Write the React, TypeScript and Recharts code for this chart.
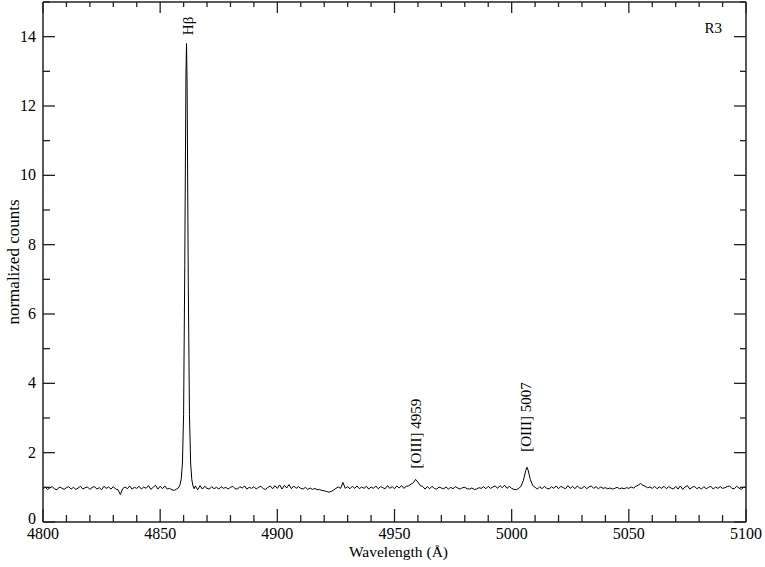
import { LineChart, Line, XAxis, YAxis, ReferenceDot } from "recharts";

// spectrum pieces: [wavelength (Å), normalized counts]
const blueContinuum: [number, number][] = [
  [4800, 0.97], [4801, 1.0], [4802, 0.94], [4803, 0.99], [4804, 1.02], [4805, 0.95], [4806, 0.93], [4807, 1.01], [4808, 0.98], [4809, 0.94],
  [4810, 0.99], [4811, 1.02], [4812, 0.95], [4813, 1.0], [4814, 0.94], [4815, 0.98], [4816, 1.03], [4817, 0.95], [4818, 0.99], [4819, 1.01],
  [4820, 0.94], [4821, 1.0], [4822, 1.02], [4823, 0.95], [4824, 0.99], [4825, 0.93], [4826, 1.03], [4827, 0.97], [4828, 1.01], [4829, 0.95],
  [4830, 1.02], [4831, 0.95], [4832, 0.93], [4833, 0.79], [4834, 0.96], [4835, 1.01], [4836, 0.96], [4837, 1.04], [4838, 0.95], [4839, 1.0],
  [4840, 0.97], [4841, 1.03], [4842, 0.95], [4843, 1.01], [4844, 0.97], [4845, 1.05], [4846, 0.94], [4847, 1.0], [4848, 1.06], [4849, 0.95],
  [4850, 1.03], [4851, 0.96], [4852, 1.04], [4853, 0.95], [4854, 0.97], [4855, 0.93], [4856, 0.91], [4857, 0.95],
];

const hBetaLine: [number, number][] = [
  [4858, 1.0], [4858.5, 1.08], [4859, 1.25], [4859.5, 1.7], [4860, 3.1], [4860.5, 7.4], [4861, 12.9], [4861.25, 13.8],
  [4861.5, 12.6], [4862, 6.9], [4862.5, 3.1], [4863, 1.7], [4863.5, 1.22], [4864, 1.04], [4864.5, 0.96],
];

const midContinuum: [number, number][] = [
  [4865, 1.04], [4866, 0.93], [4867, 1.05], [4868, 0.95], [4869, 1.03],
  [4870, 0.97], [4871, 0.95], [4872, 1.02], [4873, 0.96], [4874, 1.0], [4875, 0.95], [4876, 1.02], [4877, 0.97], [4878, 1.0], [4879, 0.95],
  [4880, 1.0], [4881, 1.03], [4882, 0.96], [4883, 0.95], [4884, 1.02], [4885, 0.98], [4886, 1.04], [4887, 0.95], [4888, 1.0], [4889, 0.97],
  [4890, 1.02], [4891, 0.95], [4892, 1.0], [4893, 1.03], [4894, 0.96], [4895, 0.94], [4896, 1.0], [4897, 1.04], [4898, 0.96], [4899, 1.05],
  [4900, 0.97], [4901, 1.07], [4902, 0.95], [4903, 1.06], [4904, 0.98], [4905, 1.08], [4906, 0.96], [4907, 1.04], [4908, 0.97], [4909, 1.02],
  [4910, 0.97], [4911, 0.95], [4912, 1.0], [4913, 0.94], [4914, 0.98], [4915, 0.94], [4916, 0.97], [4917, 0.93], [4918, 0.94], [4919, 0.91],
  [4920, 0.9], [4921, 0.88], [4922, 0.86], [4923, 0.88], [4924, 0.92], [4925, 0.97], [4926, 1.01], [4927, 0.97], [4928, 1.14], [4929, 0.97],
  [4930, 1.02], [4931, 0.96], [4932, 1.03], [4933, 0.97], [4934, 1.04], [4935, 0.96], [4936, 1.01], [4937, 0.97], [4938, 1.03], [4939, 0.95],
  [4940, 1.01], [4941, 0.97], [4942, 1.04], [4943, 0.96], [4944, 1.02], [4945, 0.99], [4946, 0.96], [4947, 1.05], [4948, 0.97], [4949, 1.02],
  [4950, 0.96], [4951, 1.04], [4952, 0.98], [4953, 1.05], [4954, 0.97], [4955, 1.03],
];

const oiii4959: [number, number][] = [
  [4956, 1.04], [4957, 1.09], [4958, 1.13], [4959, 1.23], [4960, 1.15], [4961, 1.05], [4962, 1.03],
];

const interContinuum: [number, number][] = [
  [4963, 0.95], [4964, 1.02], [4965, 0.96], [4966, 1.03], [4967, 0.97], [4968, 0.95], [4969, 1.01],
  [4970, 0.98], [4971, 0.96], [4972, 1.01], [4973, 0.95], [4974, 1.0], [4975, 0.96], [4976, 1.02], [4977, 0.98], [4978, 0.95], [4979, 0.99],
  [4980, 1.0], [4981, 0.96], [4982, 0.95], [4983, 0.98], [4984, 0.94], [4985, 0.95], [4986, 0.99], [4987, 0.97], [4988, 1.02], [4989, 0.96],
  [4990, 1.03], [4991, 0.97], [4992, 1.01], [4993, 1.04], [4994, 0.97], [4995, 1.05], [4996, 0.99], [4997, 1.06], [4998, 0.97], [4999, 1.03],
  [5000, 0.97], [5001, 0.94], [5002, 0.93], [5003, 0.97],
];

const oiii5007: [number, number][] = [
  [5004, 1.03], [5005, 1.2], [5006, 1.48], [5006.5, 1.58], [5007, 1.5], [5008, 1.22], [5009, 1.05],
];

const redContinuum: [number, number][] = [
  [5010, 1.0], [5011, 0.95], [5012, 1.02], [5013, 0.96], [5014, 1.03], [5015, 0.97], [5016, 0.95], [5017, 1.02], [5018, 0.97], [5019, 1.04],
  [5020, 0.96], [5021, 1.03], [5022, 0.99], [5023, 0.96], [5024, 1.05], [5025, 0.97], [5026, 1.03], [5027, 0.96], [5028, 1.04], [5029, 0.98],
  [5030, 0.97], [5031, 1.03], [5032, 0.96], [5033, 1.01], [5034, 1.04], [5035, 0.97], [5036, 1.02], [5037, 0.96], [5038, 1.01], [5039, 0.97],
  [5040, 0.99], [5041, 0.96], [5042, 0.98], [5043, 0.95], [5044, 0.97], [5045, 1.0], [5046, 0.96], [5047, 0.98], [5048, 0.96], [5049, 0.99],
  [5050, 0.97], [5051, 1.01], [5052, 0.98], [5053, 1.03], [5054, 1.06], [5055, 1.11], [5056, 1.06], [5057, 1.03], [5058, 0.99], [5059, 1.01],
  [5060, 0.97], [5061, 1.03], [5062, 0.96], [5063, 1.01], [5064, 0.97], [5065, 1.03], [5066, 0.96], [5067, 1.02], [5068, 0.98], [5069, 0.95],
  [5070, 1.03], [5071, 0.95], [5072, 1.04], [5073, 0.94], [5074, 1.01], [5075, 1.05], [5076, 0.95], [5077, 1.0], [5078, 1.03], [5079, 0.96],
  [5080, 1.0], [5081, 0.95], [5082, 1.02], [5083, 0.96], [5084, 1.0], [5085, 1.03], [5086, 0.95], [5087, 1.01], [5088, 0.97], [5089, 1.02],
  [5090, 0.97], [5091, 0.99], [5092, 1.02], [5093, 1.04], [5094, 0.97], [5095, 0.96], [5096, 1.03], [5097, 0.98], [5098, 0.94], [5099, 1.01],
  [5100, 0.99],
];

const xTicks = [
  4800, 4810, 4820, 4830, 4840, 4850, 4860, 4870, 4880, 4890, 4900, 4910, 4920, 4930, 4940, 4950,
  4960, 4970, 4980, 4990, 5000, 5010, 5020, 5030, 5040, 5050, 5060, 5070, 5080, 5090, 5100,
];
const xMajorTicks = [4800, 4850, 4900, 4950, 5000, 5050, 5100];
const yTicks = [0, 1, 2, 3, 4, 5, 6, 7, 8, 9, 10, 11, 12, 13, 14, 15];
const yMajorTicks = [0, 2, 4, 6, 8, 10, 12, 14];

const lineLabels = ["H\u03b2", "[OIII] 4959", "[OIII] 5007"];
const lineLabelWave = [4864.0, 4961.3, 5008.3];
const lineLabelLevel = [14.31, 2.55, 3.03];

const serif = { fontFamily: "Liberation Serif, DejaVu Serif, serif" };

const data = [
  ...blueContinuum,
  ...hBetaLine,
  ...midContinuum,
  ...oiii4959,
  ...interContinuum,
  ...oiii5007,
  ...redContinuum,
].map(([wave, counts]) => ({ wave, counts }));

function BottomTick(props: any) {
  const { x, y, payload } = props;
  const major = xMajorTicks.includes(payload.value);
  return (
    <g>
      <line x1={x} y1={y} x2={x} y2={y - (major ? 13 : 7)} stroke="#222" strokeWidth={1.3} />
      {major && (
        <text x={x} y={y + 17} textAnchor="middle" fontSize={16} style={serif} fill="#000">
          {payload.value}
        </text>
      )}
    </g>
  );
}

function TopTick(props: any) {
  const { x, y, payload } = props;
  const major = xMajorTicks.includes(payload.value);
  return <line x1={x} y1={y} x2={x} y2={y + (major ? 11 : 5)} stroke="#222" strokeWidth={1.3} />;
}

function LeftTick(props: any) {
  const { x, y, payload } = props;
  const major = yMajorTicks.includes(payload.value);
  const lift = payload.value === 0 ? 3 : 0;
  return (
    <g>
      <line x1={x} y1={y} x2={x + (major ? 12 : 7)} y2={y} stroke="#222" strokeWidth={1.3} />
      {major && (
        <text x={x - 7} y={y + 5 - lift} textAnchor="end" fontSize={16} style={serif} fill="#000">
          {payload.value}
        </text>
      )}
    </g>
  );
}

function RightTick(props: any) {
  const { x, y, payload } = props;
  const major = yMajorTicks.includes(payload.value);
  return <line x1={x} y1={y} x2={x - (major ? 12 : 6)} y2={y} stroke="#222" strokeWidth={1.3} />;
}

function VerticalLabel({ cx, cy, text }: { cx?: number; cy?: number; text: string }) {
  if (cx == null || cy == null) return null;
  return (
    <text
      x={cx}
      y={cy}
      transform={`rotate(-90, ${cx}, ${cy})`}
      textAnchor="middle"
      fontSize={15}
      style={serif}
      fill="#000"
    >
      {text}
    </text>
  );
}

export default function App() {
  return (
    <div style={{ width: 765, height: 567, background: "#fff" }}>
      <style>{"body{margin:0}"}</style>
      <LineChart width={765} height={567} data={data} margin={{ top: 0, right: 0, bottom: 0, left: 0 }}>
        <XAxis
          xAxisId="bottom"
          dataKey="wave"
          type="number"
          domain={[4800, 5100]}
          ticks={xTicks}
          interval={0}
          height={45}
          tickSize={0}
          tickMargin={0}
          tickLine={false}
          axisLine={{ stroke: "#222", strokeWidth: 1.5 }}
          tick={<BottomTick />}
          allowDataOverflow
          label={{
            content: (p: any) => {
              const vb = p.viewBox;
              return (
                <text x={vb.x + vb.width / 2 + 4} y={557} textAnchor="middle" fontSize={15.5} style={serif} fill="#000">
                  {"Wavelength  (\u00c5)"}
                </text>
              );
            },
          }}
        />
        <XAxis
          xAxisId="top"
          orientation="top"
          dataKey="wave"
          type="number"
          domain={[4800, 5100]}
          ticks={xTicks}
          interval={0}
          height={2}
          tickSize={0}
          tickMargin={0}
          tickLine={false}
          axisLine={{ stroke: "#222", strokeWidth: 1.5 }}
          tick={<TopTick />}
          allowDataOverflow
        />
        <YAxis
          yAxisId="left"
          type="number"
          domain={[0, 15]}
          ticks={yTicks}
          interval={0}
          width={43}
          tickSize={0}
          tickMargin={0}
          tickLine={false}
          axisLine={{ stroke: "#222", strokeWidth: 1.5 }}
          tick={<LeftTick />}
          allowDataOverflow
          label={{
            content: (p: any) => {
              const vb = p.viewBox;
              const cy = vb.y + vb.height / 2;
              return (
                <text
                  x={19}
                  y={cy}
                  transform={`rotate(-90, 19, ${cy})`}
                  textAnchor="middle"
                  fontSize={17}
                  style={serif}
                  fill="#000"
                >
                  normalized counts
                </text>
              );
            },
          }}
        />
        <YAxis
          yAxisId="right"
          orientation="right"
          type="number"
          domain={[0, 15]}
          ticks={yTicks}
          interval={0}
          width={19}
          tickSize={0}
          tickMargin={0}
          tickLine={false}
          axisLine={{ stroke: "#222", strokeWidth: 1.5 }}
          tick={<RightTick />}
          allowDataOverflow
        />
        <Line
          xAxisId="bottom"
          yAxisId="left"
          type="linear"
          dataKey="counts"
          stroke="#000"
          strokeWidth={1}
          dot={false}
          isAnimationActive={false}
        />
        {lineLabels.map((t, i) => (
          <ReferenceDot
            key={t}
            xAxisId="bottom"
            yAxisId="left"
            x={lineLabelWave[i]}
            y={lineLabelLevel[i]}
            r={0}
            ifOverflow="visible"
            shape={(p: any) => <VerticalLabel cx={p.cx} cy={p.cy} text={t} />}
          />
        ))}
        <ReferenceDot
          xAxisId="bottom"
          yAxisId="left"
          x={5086}
          y={14.1}
          r={0}
          ifOverflow="visible"
          shape={(p: any) => (
            <text x={p.cx} y={p.cy} textAnchor="middle" fontSize={15} style={serif} fill="#000">
              R3
            </text>
          )}
        />
      </LineChart>
    </div>
  );
}
